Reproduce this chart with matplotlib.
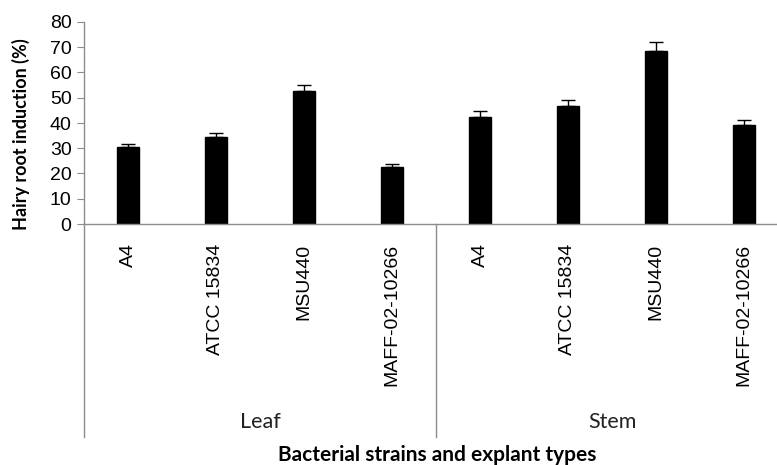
import matplotlib.pyplot as plt
import matplotlib.transforms as mtransforms
import numpy as np

strains = ['A4', 'ATCC 15834', 'MSU440', 'MAFF-02-10266']
explants = ['Leaf', 'Stem']
leaf_vals = [30.6, 34.6, 52.8, 22.7]
leaf_err = [1.2, 1.6, 2.2, 1.2]
stem_vals = [42.5, 46.9, 68.5, 39.3]
stem_err = [2.1, 2.2, 3.5, 1.9]

values = leaf_vals + stem_vals
errs = leaf_err + stem_err
labels = strains + strains
x = np.arange(len(values))

W, H = 777, 465
fig = plt.figure(figsize=(W / 100, H / 100), dpi=100)
ax = fig.add_axes([84 / W, 241 / H, (788 - 84) / W, 202 / H])

grey = '#8c8c8c'
ax.bar(x, values, width=0.25, color='black', edgecolor='black', zorder=2)
ax.errorbar(x, values, yerr=[np.zeros(len(errs)), errs], fmt='none',
            ecolor='black', elinewidth=1, capsize=5, capthick=1, zorder=3)

ax.set_xlim(-0.5, len(values) - 0.5)
ax.set_ylim(0, 80)
ax.set_yticks(np.arange(0, 81, 10))
ax.tick_params(axis='y', labelsize=14, length=5, color=grey, pad=4)
ax.set_xticks(x)
ax.set_xticklabels(labels, rotation=90, va='top', fontsize=14)
ax.tick_params(axis='x', length=0, pad=14)
for lab in ax.get_xticklabels() + ax.get_yticklabels():
    lab.set_fontfamily('Liberation Sans')

for s in ['top', 'right']:
    ax.spines[s].set_visible(False)
for s in ['left', 'bottom']:
    ax.spines[s].set_color(grey)
    ax.spines[s].set_linewidth(1)

# group separators below the axis
trans = mtransforms.blended_transform_factory(ax.transData, fig.transFigure)
for xs in [-0.5, 3.5, 7.5]:
    ax.plot([xs, xs], [241 / H, 28 / H], color=grey, lw=1, transform=trans,
            clip_on=False)
for i, name in enumerate(explants):
    ax.text(i * 4 + 1.5, 43 / H, name, transform=trans, ha='center',
            va='center', fontsize=15.5, family='Lato', color='#222222')

fig.text(437 / W, 10 / H, 'Bacterial strains and explant types',
         ha='center', va='center', fontsize=15, fontweight='bold',
         family='Lato')
fig.text(21 / W, (H - 134) / H, 'Hairy root induction (%)', rotation=90,
         ha='center', va='center', fontsize=13, fontweight='bold',
         family='Lato')

fig.savefig('out.png', dpi=100)
